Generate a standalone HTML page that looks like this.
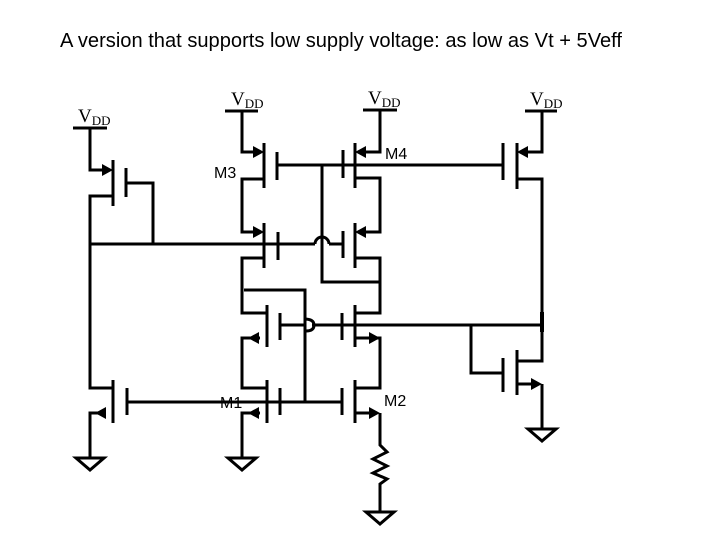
<!DOCTYPE html>
<html><head><meta charset="utf-8"><style>
html,body{margin:0;padding:0;background:#fff;}
svg{display:block}
.t{font-family:"Liberation Sans",Arial,sans-serif;}
.s{font-family:"Liberation Serif",serif;}
</style></head><body>
<svg width="720" height="540" viewBox="0 0 720 540" xmlns="http://www.w3.org/2000/svg">
<text x="60" y="47" class="t" font-size="20" textLength="562" lengthAdjust="spacingAndGlyphs" fill="#000">A version that supports low supply voltage: as low as Vt + 5Veff</text>

<g stroke="#000" stroke-width="3" fill="none" stroke-linejoin="miter">
<line x1="73" y1="128" x2="107" y2="128"/>
<line x1="225" y1="111" x2="258" y2="111"/>
<line x1="363" y1="110" x2="397" y2="110"/>
<line x1="525" y1="111" x2="557" y2="111"/>

<polyline points="90,128 90,170 106,170"/>
<line x1="113" y1="160" x2="113" y2="206"/>
<line x1="126" y1="168" x2="126" y2="197"/>
<polyline points="126,183 153,183 153,244"/>
<polyline points="113,196 90,196 90,388 113,388"/>
<line x1="90" y1="244" x2="315" y2="244"/>
<path d="M315,244 A7,7 0 0 1 329,244"/>
<line x1="329" y1="244" x2="343" y2="244"/>

<polyline points="242,111 242,152 257,152"/>
<line x1="264" y1="143" x2="264" y2="188"/>
<line x1="277" y1="152" x2="277" y2="180"/>
<line x1="277" y1="165" x2="503" y2="165"/>
<polyline points="264,179 242,179 242,232 257,232"/>
<line x1="264" y1="223" x2="264" y2="268"/>
<line x1="278" y1="232" x2="278" y2="260"/>
<polyline points="264,258 242,258 242,313 267,313"/>
<polyline points="244,290 305,290 305,402"/>

<polyline points="380,110 380,152 363,152"/>
<line x1="355" y1="143" x2="355" y2="188"/>
<line x1="343" y1="150" x2="343" y2="178"/>
<polyline points="355,178 380,178 380,232 363,232"/>
<line x1="355" y1="223" x2="355" y2="268"/>
<line x1="343" y1="231" x2="343" y2="258"/>
<polyline points="355,258 380,258 380,313 355,313"/>
<polyline points="322,165 322,282 380,282"/>

<line x1="267" y1="305" x2="267" y2="347"/>
<line x1="280" y1="313" x2="280" y2="340"/>
<polyline points="260,338 242,338 242,388 267,388"/>
<line x1="280" y1="325" x2="304" y2="325"/>
<path d="M304,319 Q314,319 314,325 Q314,331 306,331"/>
<line x1="312" y1="325" x2="542" y2="325"/>
<line x1="355" y1="305" x2="355" y2="347"/>
<line x1="342" y1="313" x2="342" y2="340"/>
<polyline points="355,338 380,338 380,388 355,388"/>

<line x1="267" y1="380" x2="267" y2="423"/>
<line x1="280" y1="388" x2="280" y2="415"/>
<polyline points="260,413 242,413 242,457"/>
<line x1="113" y1="380" x2="113" y2="423"/>
<line x1="127" y1="388" x2="127" y2="415"/>
<polyline points="106,413 90,413 90,457"/>
<line x1="127" y1="402" x2="342" y2="402"/>
<line x1="355" y1="380" x2="355" y2="423"/>
<line x1="342" y1="388" x2="342" y2="415"/>
<polyline points="355,413 370,413"/>
<polyline points="380,413 380,445 387,452 373,459 387,466 373,473 387,479 380,484 380,512"/>

<polyline points="542,111 542,152 525,152"/>
<line x1="517" y1="143" x2="517" y2="189"/>
<line x1="503" y1="143" x2="503" y2="180"/>
<polyline points="517,179 542,179 542,361 517,361"/>
<line x1="542" y1="312" x2="542" y2="332" stroke-width="4"/>
<line x1="517" y1="350" x2="517" y2="395"/>
<line x1="503" y1="358" x2="503" y2="392"/>
<polyline points="471,325 471,373 503,373"/>
<polyline points="517,384 532,384"/>
<polyline points="542,384 542,428"/>

<path d="M76,458 L104,458 L90,470 Z"/>
<path d="M228,458 L256,458 L242,470 Z"/>
<path d="M366,512 L394,512 L380,524 Z"/>
<path d="M528,429 L556,429 L542,441 Z"/>
</g>

<g fill="#000">
<polygon points="113,170 102,164 102,176"/>
<polygon points="264,152 253,146 253,158"/>
<polygon points="264,232 253,226 253,238"/>
<polygon points="355,152 366,146 366,158"/>
<polygon points="355,232 366,226 366,238"/>
<polygon points="517,152 528,146 528,158"/>
<polygon points="248,338 259,332 259,344"/>
<polygon points="248,413 259,407 259,419"/>
<polygon points="95,413 106,407 106,419"/>
<polygon points="380,338 369,332 369,344"/>
<polygon points="380,413 369,407 369,419"/>
<polygon points="542,384 531,378 531,390"/>
</g>

<g class="t" font-size="16" fill="#000">
<text x="214" y="178">M3</text>
<text x="385" y="159">M4</text>
<text x="220" y="408">M1</text>
<text x="384" y="406">M2</text>
</g>
<g class="s" fill="#000">
<text x="78" y="122" font-size="19">V<tspan font-size="13" dy="3">DD</tspan></text>
<text x="231" y="105" font-size="19">V<tspan font-size="13" dy="3">DD</tspan></text>
<text x="368" y="104" font-size="19">V<tspan font-size="13" dy="3">DD</tspan></text>
<text x="530" y="105" font-size="19">V<tspan font-size="13" dy="3">DD</tspan></text>
</g>
</svg>
</body></html>
